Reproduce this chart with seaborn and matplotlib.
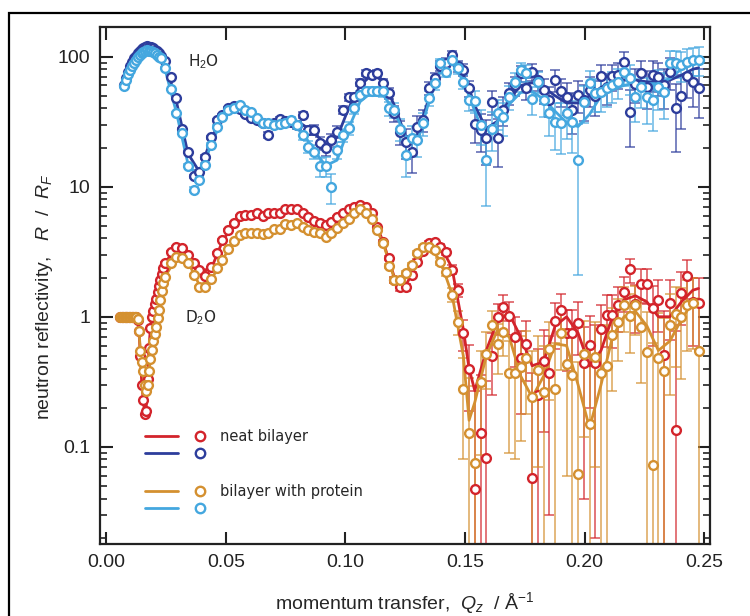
import matplotlib
matplotlib.use("Agg")
import matplotlib.pyplot as plt
import seaborn as sns
import pandas as pd
from matplotlib.lines import Line2D
from matplotlib.legend_handler import HandlerTuple
from matplotlib.patches import Rectangle
from matplotlib.ticker import FixedLocator, FixedFormatter, LogLocator, NullFormatter, NullLocator

# ----------------------------
# Data
# ----------------------------

# H2O contrast, dense low-Q part
q_low_h2o = [0.0075, 0.0083, 0.0091, 0.0099, 0.0107, 0.0115, 0.0123, 0.0131, 0.0139, 0.0147,
             0.0155, 0.0163, 0.0171, 0.0179, 0.0187, 0.0195, 0.0203, 0.0211, 0.0219, 0.0227]
r_low_neat_h2o = [60, 68, 76, 84, 91, 97, 102, 107, 111, 115,
                  117, 119, 120, 119, 118, 116, 113, 110, 106, 101]
r_low_prot_h2o = [59, 66, 73, 79, 85, 90, 95, 99, 103, 106,
                  109, 111, 112, 111, 110, 108, 106, 103, 100, 97]

# D2O contrast, dense low-Q part
q_low_d2o = [0.0058, 0.0064, 0.0070, 0.0076, 0.0082, 0.0088, 0.0094, 0.0100, 0.0106, 0.0112,
             0.0118, 0.0124, 0.0130, 0.0136, 0.0142, 0.0148, 0.0154, 0.0160, 0.0166, 0.0172,
             0.0178, 0.0184, 0.0190, 0.0196, 0.0202, 0.0208, 0.0214, 0.0220, 0.0226, 0.0232, 0.0238]
r_low_neat_d2o = [1.0, 1.0, 1.0, 1.0, 1.0, 1.0, 1.0, 1.0, 1.0, 1.0,
                  1.0, 0.99, 0.95, 0.78, 0.5, 0.3, 0.23, 0.18, 0.19, 0.33,
                  0.58, 0.82, 1.0, 1.1, 1.25, 1.38, 1.55, 1.72, 1.92, 2.12, 2.36]
r_low_prot_d2o = [1.0, 1.0, 1.0, 1.0, 1.0, 1.0, 1.0, 1.0, 1.0, 1.0,
                  1.0, 0.99, 0.96, 0.78, 0.55, 0.45, 0.38, 0.3, 0.27, 0.3,
                  0.38, 0.47, 0.56, 0.65, 0.74, 0.84, 0.97, 1.12, 1.35, 1.58, 1.82]

# main Q grid (both contrasts)
q = [0.0245, 0.0269, 0.0293, 0.0317, 0.0341, 0.0365, 0.0389, 0.0413, 0.0437, 0.0461,
     0.0485, 0.0509, 0.0533, 0.0557, 0.0581, 0.0605, 0.0629, 0.0653, 0.0677, 0.0701,
     0.0725, 0.0749, 0.0773, 0.0797, 0.0821, 0.0845, 0.0869, 0.0893, 0.0917, 0.0941,
     0.0965, 0.0989, 0.1013, 0.1037, 0.1061, 0.1085, 0.1109, 0.1133, 0.1157, 0.1181,
     0.1205, 0.1229, 0.1253, 0.1277, 0.1301, 0.1325, 0.1349, 0.1373, 0.1397, 0.1421,
     0.1445, 0.1469, 0.1493, 0.1517, 0.1541, 0.1565, 0.1589, 0.1613, 0.1637, 0.1661,
     0.1685, 0.1709, 0.1733, 0.1757, 0.1781, 0.1805, 0.1829, 0.1853, 0.1877, 0.1901,
     0.1925, 0.1949, 0.1973, 0.1997, 0.2021, 0.2045, 0.2069, 0.2093, 0.2117, 0.2141,
     0.2165, 0.2189, 0.2213, 0.2237, 0.2261, 0.2285, 0.2309, 0.2333, 0.2357, 0.2381,
     0.2405, 0.2429, 0.2453, 0.2477]

r_neat_h2o = [92, 70, 48, 28, 18.5, 12, 13, 17, 24, 32.6,
              35.5, 40, 41.6, 39.5, 36, 33.6, 32.6, 30.7, 25, 30.7,
              32.9, 32, 31.6, 30, 35.5, 27.3, 27.3, 21.6, 19.8, 22.8,
              26.5, 38.9, 48.6, 49.2, 63, 74.6, 72.5, 74.6, 62.4, 52.4,
              36.7, 26.5, 22, 18.6, 29, 32.6, 57, 68.3, 85, 90,
              103, 84, 79, 57, 30.2, 27.3, 23.6, 45, 23.6, 38.9,
              52.4, 60, 74.6, 57, 76.7, 66, 55.6, 46.4, 66, 54,
              49, 38.9, 50.7, 46.4, 55.6, 50, 71, 58, 70.5, 72.5,
              91.7, 37.8, 62, 74.6, 58.6, 72.5, 70, 60, 76.7, 40,
              49.9, 70.5, 64.2, 57]
r_prot_h2o = [82, 56, 36.7, 25.8, 14.5, 9.5, 11.3, 14.7, 20.9, 29,
              34.5, 38.9, 40, 42.5, 38.9, 37.8, 34, 31, 30.7, 29.8,
              30.5, 30.7, 32.6, 29.8, 25, 20.3, 18.6, 14.3, 14.3, 10,
              19.1, 25, 28.1, 40, 50.7, 54, 54, 54, 54, 40,
              38.9, 28, 17.5, 23.6, 22.8, 30.7, 47.9, 62.4, 89, 76.7,
              94.3, 81.4, 64.2, 46.4, 45.6, 29.8, 16.1, 28, 36.7, 34.5,
              49.2, 64.2, 79, 74.6, 47, 64.2, 46.4, 36.7, 31.6, 30.7,
              36.7, 31.6, 16.1, 45, 62.4, 52.4, 53, 57, 60, 64.2,
              76.7, 68.3, 49.2, 58.6, 49.2, 46.4, 58.6, 53.8, 89, 89.9,
              86, 91.7, 94.3, 94.3]
r_neat_d2o = [2.6, 3.16, 3.45, 3.4, 3.0, 2.6, 2.28, 2.05, 2.4, 3.1,
              3.9, 4.65, 5.3, 6.0, 6.05, 6.05, 6.3, 6.0, 6.25, 6.25,
              6.3, 6.7, 6.7, 6.7, 6.25, 5.8, 5.4, 5.28, 5.08, 5.38,
              5.87, 6.3, 6.7, 7.0, 7.2, 7.0, 6.3, 4.93, 3.77, 2.81,
              1.92, 1.68, 1.68, 2.1, 2.65, 3.2, 3.67, 3.77, 3.45, 3.16,
              2.3, 1.6, 0.75, 0.40, 0.047, 0.128, 0.082, 0.50, 0.99, 1.19,
              1.01, 0.70, 0.48, 0.62, 0.058, 0.25, 0.46, 0.37, 0.92, 1.13,
              0.75, 0.75, 0.9, 0.44, 0.61, 0.44, 0.80, 1.03, 1.03, 1.23,
              1.56, 2.31, 1.25, 1.8, 1.8, 1.16, 1.34, 0.51, 1.28, 0.134,
              1.53, 2.06, 1.3, 1.28]
r_prot_d2o = [2.03, 2.6, 2.86, 2.81, 2.6, 2.1, 1.7, 1.68, 1.95, 2.36,
              2.75, 3.3, 3.8, 4.25, 4.37, 4.37, 4.42, 4.3, 4.4, 4.7,
              4.7, 5.16, 5.1, 5.23, 4.93, 4.65, 4.5, 4.4, 4.13, 4.4,
              4.78, 5.28, 5.6, 6.25, 6.7, 6.3, 5.6, 4.65, 3.67, 2.45,
              1.92, 1.92, 2.16, 2.5, 3.1, 3.45, 3.45, 3.26, 2.65, 2.22,
              1.47, 0.915, 0.28, 0.128, 0.075, 0.316, 0.52, 0.86, 0.62, 0.77,
              0.37, 0.37, 0.41, 0.48, 0.24, 0.39, 0.265, 0.57, 0.28, 0.75,
              0.43, 0.356, 0.062, 0.52, 0.151, 0.49, 0.367, 0.42, 0.72, 0.915,
              1.23, 1.01, 1.23, 0.83, 0.54, 0.072, 0.48, 0.38, 0.87, 1.05,
              0.99, 1.23, 1.27, 0.55]

# absolute uncertainties on the main grid
err_h2o = [0.8, 0.7, 0.5, 0.4, 0.4, 0.4, 0.5, 0.6, 0.7, 0.8,
           0.9, 1.0, 1.0, 1.1, 1.1, 1.1, 1.2, 1.2, 1.3, 1.3,
           1.5, 1.6, 1.8, 2.0, 2.0, 2.2, 2.3, 2.4, 2.5, 2.6,
           2.8, 3.0, 3.2, 3.5, 3.8, 4.0, 4.2, 4.5, 4.8, 5.0,
           5.2, 5.4, 5.6, 5.8, 6.0, 6.2, 6.5, 6.8, 7.0, 7.3,
           7.5, 7.8, 8.0, 8.2, 8.5, 8.8, 9.0, 9.3, 9.5, 9.8,
           10, 10.3, 10.6, 11, 11.3, 11.6, 12, 12.3, 12.6, 13,
           13.3, 13.6, 14, 14.3, 14.6, 15, 15.4, 15.8, 16.2, 16.6,
           17, 17.5, 18, 18.5, 19, 19.5, 20, 20.5, 21, 21.5,
           22, 22.5, 23, 23.5]
err_d2o = [0.03, 0.03, 0.03, 0.03, 0.03, 0.03, 0.03, 0.03, 0.03, 0.03,
           0.04, 0.04, 0.05, 0.05, 0.05, 0.05, 0.05, 0.05, 0.05, 0.05,
           0.06, 0.06, 0.06, 0.06, 0.06, 0.06, 0.06, 0.06, 0.06, 0.06,
           0.07, 0.07, 0.08, 0.08, 0.08, 0.09, 0.09, 0.1, 0.1, 0.1,
           0.1, 0.1, 0.1, 0.11, 0.12, 0.13, 0.14, 0.15, 0.16, 0.17,
           0.18, 0.19, 0.2, 0.21, 0.22, 0.23, 0.24, 0.25, 0.26, 0.27,
           0.28, 0.29, 0.3, 0.3, 0.31, 0.32, 0.33, 0.34, 0.35, 0.36,
           0.37, 0.38, 0.39, 0.4, 0.41, 0.42, 0.43, 0.44, 0.45, 0.46,
           0.47, 0.48, 0.5, 0.52, 0.54, 0.56, 0.58, 0.6, 0.62, 0.64,
           0.66, 0.68, 0.7, 0.72]

# model fits
q_fit = [0.0245, 0.0293, 0.0341, 0.0389, 0.0437, 0.0485, 0.0533, 0.0581, 0.0629, 0.0677,
         0.0725, 0.0773, 0.0821, 0.0869, 0.0917, 0.0965, 0.1013, 0.1061, 0.1109, 0.1157,
         0.1205, 0.1253, 0.1301, 0.1349, 0.1397, 0.1445, 0.1493, 0.1517, 0.1541, 0.1589,
         0.1637, 0.1685, 0.1733, 0.1781, 0.1829, 0.1877, 0.1925, 0.1973, 0.2021, 0.2069,
         0.2117, 0.2165, 0.2213, 0.2261, 0.2309, 0.2357, 0.2405, 0.2453, 0.2477]
fit_neat_h2o = [92, 45, 18, 13, 23, 35, 40, 37, 33, 31,
                31.5, 32, 30, 26, 21, 24, 40, 60, 72, 66,
                42, 24, 25, 48, 78, 90, 72, 57, 42, 28,
                32, 47, 60, 63, 58, 50, 44, 44, 50, 58,
                64, 66, 66, 64, 63, 66, 72, 80, 82]
fit_prot_h2o = [80, 37, 15, 11.5, 21, 33, 39.5, 39, 34, 31,
                30.5, 30.5, 26, 19, 14.5, 16, 28, 45, 53, 51,
                38, 24, 22, 45, 78, 90, 65, 50, 38, 23,
                32, 43, 53, 54, 47, 38, 31, 29, 36, 50,
                56, 60, 63, 62, 62, 68, 80, 92, 95]
fit_neat_d2o = [2.6, 3.4, 3.05, 2.3, 2.3, 3.8, 5.2, 5.9, 6.1, 6.2,
                6.4, 6.6, 6.3, 5.6, 5.2, 5.8, 6.7, 7.2, 6.2, 3.8,
                2.0, 1.75, 2.6, 3.6, 3.5, 2.4, 0.8, 0.4, 0.27, 0.55,
                0.95, 1.05, 0.7, 0.42, 0.45, 0.85, 1.0, 0.75, 0.42, 0.55,
                1.0, 1.35, 1.45, 1.3, 1.0, 1.0, 1.3, 1.6, 1.65]
fit_prot_d2o = [2.03, 2.85, 2.65, 1.75, 1.9, 2.75, 3.8, 4.3, 4.4, 4.45,
                4.7, 5.1, 4.95, 4.5, 4.2, 4.75, 5.6, 6.6, 5.6, 3.7,
                1.95, 2.1, 3.05, 3.45, 2.7, 1.5, 0.5, 0.16, 0.22, 0.5,
                0.8, 0.7, 0.35, 0.24, 0.35, 0.62, 0.6, 0.3, 0.14, 0.3,
                0.7, 1.0, 1.1, 0.85, 0.55, 0.65, 0.95, 1.3, 1.38]

c_neat_d2o = "#d3242b"
c_neat_h2o = "#2d3d9c"
c_prot_d2o = "#d49030"
c_prot_h2o = "#44a7df"


# ----------------------------
# Style
# ----------------------------

sns.set_theme(style="ticks")
plt.rcParams['font.family'] = ['Liberation Sans', 'DejaVu Sans']
plt.rcParams['mathtext.fontset'] = 'custom'
plt.rcParams['mathtext.rm'] = 'Liberation Sans'
plt.rcParams['mathtext.it'] = 'Liberation Sans:italic'

fig = plt.figure(figsize=(7.5, 6.16), dpi=100)
ax = fig.add_axes([0.1333, 0.1169, 0.8134, 0.8393])
ax.set_yscale("log")


def draw_series(q_lo, r_lo, q_hi, r_hi, err, q_f, r_f, color):
    # error bars on the main grid
    ax.errorbar(q_hi, r_hi, yerr=err, fmt="none", ecolor=color, elinewidth=1.1,
                capsize=3.6, capthick=1.1, alpha=0.8, zorder=2)
    # fit line (follows the data in the dense low-Q region)
    line_df = pd.DataFrame({"q": q_lo + q_f, "r": r_lo + r_f})
    sns.lineplot(data=line_df, x="q", y="r", ax=ax, color=color, lw=2.0,
                 sort=False, estimator=None, zorder=3)
    # data points
    pts = pd.DataFrame({"q": q_lo + q_hi, "r": r_lo + r_hi})
    sns.scatterplot(data=pts, x="q", y="r", ax=ax, color="white", edgecolor=color,
                    s=40, linewidth=1.7, zorder=4)


draw_series(q_low_h2o, r_low_neat_h2o, q, r_neat_h2o, err_h2o, q_fit, fit_neat_h2o, c_neat_h2o)
draw_series(q_low_h2o, r_low_prot_h2o, q, r_prot_h2o, err_h2o, q_fit, fit_prot_h2o, c_prot_h2o)
draw_series(q_low_d2o, r_low_neat_d2o, q, r_neat_d2o, err_d2o, q_fit, fit_neat_d2o, c_neat_d2o)
draw_series(q_low_d2o, r_low_prot_d2o, q, r_prot_d2o, err_d2o, q_fit, fit_prot_d2o, c_prot_d2o)

# ----------------------------
# Axes
# ----------------------------

ax.set_xlim(-0.0027, 0.2525)
ax.set_ylim(0.0179, 169)
ax.xaxis.set_major_locator(FixedLocator([0.0, 0.05, 0.10, 0.15, 0.20, 0.25]))
ax.xaxis.set_major_formatter(FixedFormatter(["0.00", "0.05", "0.10", "0.15", "0.20", "0.25"]))
ax.xaxis.set_minor_locator(NullLocator())
ax.yaxis.set_major_locator(FixedLocator([0.1, 1, 10, 100]))
ax.yaxis.set_major_formatter(FixedFormatter(["0.1", "1", "10", "100"]))
ax.yaxis.set_minor_locator(LogLocator(base=10, subs=range(2, 10)))
ax.yaxis.set_minor_formatter(NullFormatter())
ax.tick_params(which="both", direction="in", top=True, right=True, colors="#222222")
ax.tick_params(which="major", length=9, width=1.5, labelsize=14, pad=7)
ax.tick_params(which="minor", length=5, width=1.2)
for sp in ax.spines.values():
    sp.set_linewidth(1.6)
    sp.set_color("#222222")

ax.set_xlabel(r"momentum transfer,  $Q_z$  / Å$^{\mathrm{-1}}$", fontsize=14, labelpad=14)
ax.set_ylabel(r"neutron reflectivity,   $R$  /  $R_F$", fontsize=14)
ax.yaxis.set_label_coords(-0.074, 0.478)

ax.text(0.034, 91, "H$_2$O", fontsize=11, va="center", ha="left", family="DejaVu Sans")
ax.text(0.0328, 0.98, "D$_2$O", fontsize=11, va="center", ha="left", family="DejaVu Sans")

# ----------------------------
# Legend (two groups)
# ----------------------------


def pair(c):
    return (Line2D([], [], color=c, lw=2.0),
            Line2D([], [], ls="none", marker="o", ms=6.8, mfc="white", mec=c, mew=1.7))


leg_kw = dict(handler_map={tuple: HandlerTuple(ndivide=2, pad=0.42)},
              loc="upper left", frameon=False, handlelength=4.9, handletextpad=0.25,
              labelspacing=0.16, borderpad=0, prop={"family": "DejaVu Sans", "size": 10.5})
leg1 = ax.legend([pair(c_neat_d2o), pair(c_neat_h2o)], ["neat bilayer", ""],
                 bbox_to_anchor=(0.062, 0.236), **leg_kw)
ax.add_artist(leg1)
ax.legend([pair(c_prot_d2o), pair(c_prot_h2o)], ["bilayer with protein", ""],
          bbox_to_anchor=(0.062, 0.130), **leg_kw)

# outer frame of the panel
fig.add_artist(Rectangle((9 / 750, -0.1), 2.0, 1.1 - 12.5 / 616, transform=fig.transFigure,
                         fill=False, lw=1.6, edgecolor="black", clip_on=False))

fig.savefig("out.png", dpi=100)
